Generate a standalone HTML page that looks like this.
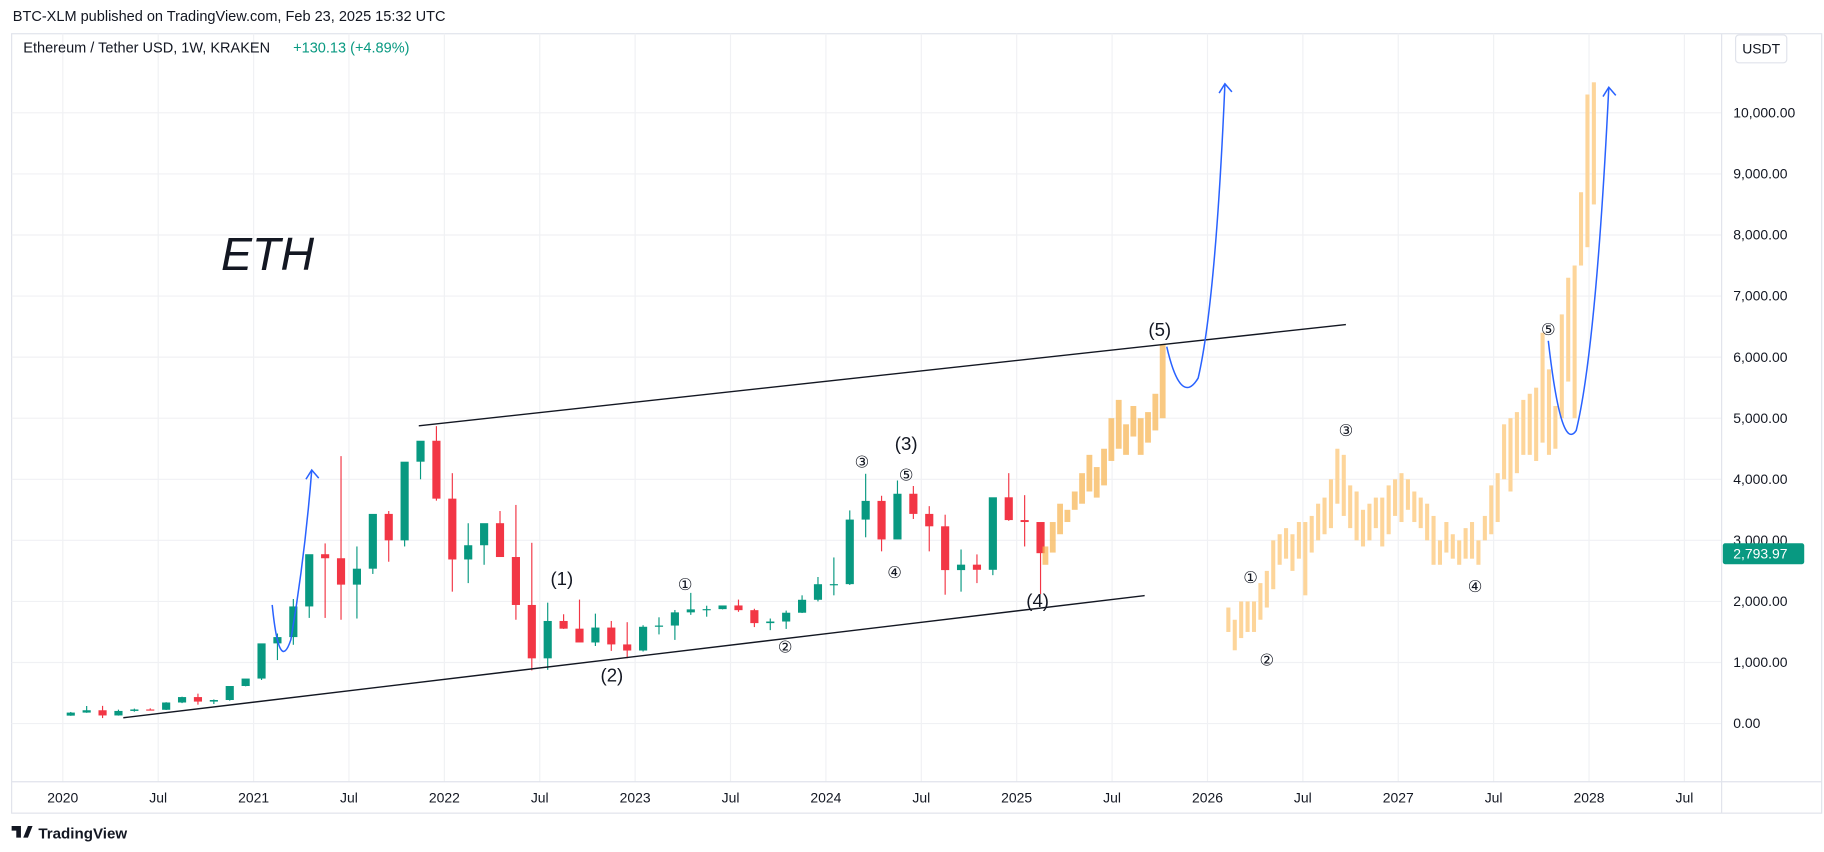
<!DOCTYPE html>
<html><head><meta charset="utf-8"><style>
body{margin:0;background:#fff;font-family:"Liberation Sans",sans-serif;}
#wrap{position:relative;width:1824px;height:852px;overflow:hidden;}
</style></head><body>
<div id="wrap">
<svg id="svg" width="1824" height="852" viewBox="0 0 1568 732.4" preserveAspectRatio="none" xmlns="http://www.w3.org/2000/svg"></svg>
</div>
<script>
// ---- data ----
const histOpen=[130,180,218,133,207,231,226,345,434,360,386,615,737,1313,1416,1918,2773,2707,2275,2536,3433,3000,4288,4631,3683,2687,2920,3281,2727,1942,1068,1680,1554,1328,1572,1296,1196,1585,1605,1821,1870,1874,1934,1857,1645,1671,1815,2027,2282,2283,3340,3646,3015,3763,3433,3230,2513,2602,2518,3705,3332,3300];
const histHigh=[190,288,290,228,245,250,350,440,490,395,470,620,760,1475,2040,1945,2950,4380,2900,2680,3480,3480,4460,4870,4100,3280,3200,3480,3580,2960,1980,1790,2030,1800,1680,1660,1610,1740,1860,2140,1930,1930,2030,1880,1720,1850,2100,2400,2720,3490,4090,3730,3980,3890,3560,3420,2850,2770,3430,4100,3740,2800];
const histLow=[127,176,90,130,195,215,222,335,310,320,375,610,714,1040,1290,1730,1730,1700,1720,2450,2650,2900,4000,3650,2160,2300,2600,2730,1700,870,880,1550,1420,1270,1190,1070,1180,1460,1370,1780,1750,1870,1830,1580,1530,1550,1810,2000,2100,2270,3050,2820,3020,3350,2820,2110,2160,2300,2430,3320,2900,2120];
const histClose=[180,218,133,207,231,226,345,434,360,386,615,737,1313,1416,1918,2773,2707,2275,2536,3433,3000,4288,4631,3683,2687,2920,3281,2727,1942,1068,1680,1554,1328,1572,1296,1196,1585,1605,1821,1870,1874,1934,1857,1645,1671,1815,2027,2282,2283,3340,3646,3015,3763,3433,3230,2513,2602,2518,3705,3332,3300,2790];
const projALo=[2600,2800,3100,3300,3500,3600,3800,3700,3900,4300,4500,4400,4700,4400,4600,4800,5000];
const projAHi=[2900,3300,3600,3500,3800,4100,4400,4200,4500,5000,5300,4900,5200,5000,5100,5400,6200];
const projBLo=[1500,1200,1400,1500,1500,1700,1900,2200,2600,2700,2500,2700,2100,2800,3000,3100,3200,3600,3400,3200,3000,2900,3000,3200,2900,3100,3400,3300,3500,3300,3200,3000,2600,2600,2800,2700,2600,2700,2700,2600,3000,3100,3300,4000,3800,4100,4400,4400,4300,4600,4400,4500,5000,5600,5000,7500,7800,8500];
const projBHi=[1900,1700,2000,2000,2000,2300,2500,3000,3100,3200,3100,3300,3300,3400,3600,3700,4000,4500,4400,3900,3800,3500,3600,3700,3700,3900,4000,4100,4000,3800,3700,3600,3400,3000,3300,3100,3000,3200,3300,3000,3400,3900,4100,4900,5000,5100,5300,5400,5500,6400,5800,5200,6700,7300,7500,8700,10300,10500];
const priceTicks=[0,1000,2000,3000,4000,5000,6000,7000,8000,9000,10000];
const timeLabels=["2020","Jul","2021","Jul","2022","Jul","2023","Jul","2024","Jul","2025","Jul","2026","Jul","2027","Jul","2028","Jul"];

// ---- axes ----
const yP=v=>622-v*0.0525;
const xM=m=>54+m*164/12;
const xW=w=>54+w*3.15;
const svg=document.getElementById('svg');
const NS='http://www.w3.org/2000/svg';
function mk(tag,attrs,parent){const e=document.createElementNS(NS,tag);for(const k in attrs)e.setAttribute(k,attrs[k]);(parent||svg).appendChild(e);return e;}

mk('rect',{x:10,y:29,width:1556,height:670,fill:'none',stroke:'#e0e3eb'});
const g=mk('g',{});
priceTicks.forEach(v=>{mk('line',{x1:10,x2:1480,y1:yP(v),y2:yP(v),stroke:'#f0f1f4'},g);});
timeLabels.forEach((t,i)=>{const x=xM(i*6);mk('line',{x1:x,x2:x,y1:29,y2:672,stroke:'#f0f1f4'},g);});
mk('line',{x1:1480,x2:1480,y1:29,y2:699,stroke:'#e0e3eb'});
mk('line',{x1:10,x2:1566,y1:672,y2:672,stroke:'#e0e3eb'});

priceTicks.forEach(v=>{const t=mk('text',{x:1490,y:yP(v)+4,'font-size':12,fill:'#131722'});t.textContent=v.toLocaleString('en-US',{minimumFractionDigits:2});

});
timeLabels.forEach((l,i)=>{const t=mk('text',{x:xM(i*6),y:690,'font-size':12,fill:'#131722','text-anchor':'middle'});t.textContent=l;

});

const cg=mk('g',{});
histOpen.forEach((o,i)=>{const c=histClose[i],x=xM(i+0.5),col=c>=o?'#089981':'#f23645';
 mk('line',{x1:x,x2:x,y1:yP(histHigh[i]),y2:yP(histLow[i]),stroke:col,'stroke-width':1},cg);
 const r=mk('rect',{x:x-3.5,y:yP(Math.max(o,c)),width:7,height:Math.max(1,Math.abs(yP(o)-yP(c))),fill:col},cg);
 
 });
const pg=mk('g',{});
projALo.forEach((lo,i)=>{const x=xW(268+i*2);const r=mk('rect',{x:x-2,y:yP(projAHi[i]),width:5,height:yP(lo)-yP(projAHi[i]),fill:'#f7b24d',opacity:0.7},pg);
 
 });
projBLo.forEach((lo,i)=>{const x=xW(318+i*1.75);const r=mk('rect',{x:x-1.5,y:yP(projBHi[i]),width:3.5,height:yP(lo)-yP(projBHi[i]),fill:'#fdd59a'},pg);
 
 });

let l=mk('line',{x1:360,y1:366,x2:1157,y2:279,stroke:'#131722','stroke-width':1.2});
l=mk('line',{x1:106,y1:617,x2:984,y2:512,stroke:'#131722','stroke-width':1.2});
function bp(d,name,ax,ay){const p=mk('path',{d:d,fill:'none',stroke:'#2962ff','stroke-width':1.3});
 mk('path',{d:`M${ax-5},${ay+8} L${ax},${ay} L${ax+6},${ay+7}`,fill:'none',stroke:'#2962ff','stroke-width':1.3});}
bp('M234,520 Q240,580 250,550 Q262,480 268,404','projection-path-2021',268,404);
bp('M1003,298 Q1015,350 1030,325 Q1045,260 1053,72','projection-path-2025',1053,72);
bp('M1331,293 Q1342,390 1355,370 Q1372,300 1383,75','projection-path-2027',1383,75);

const labs=[['(1)',483,503,16],['(2)',526,586,16],['①',589,507,14],['②',675,561,14],['③',741,402,14],['⑤',779,413,14],['(3)',779,387,16],['④',769,497,14],['(4)',892,522,16],['(5)',997,289,16],['①',1075,501,14],['②',1089,572,14],['③',1157,375,14],['④',1268,509,14],['⑤',1331,288,14]];
labs.forEach(a=>{const t=mk('text',{x:a[1],y:a[2],'font-size':a[3],fill:'#131722','text-anchor':'middle','font-family':'"Liberation Sans","DejaVu Sans",sans-serif'});t.textContent=a[0];
 
 });
let t=mk('text',{x:190,y:232,'font-size':40,'font-style':'italic',fill:'#131722'});t.textContent='ETH';

t=mk('text',{x:11,y:18,'font-size':12.5,fill:'#131722'});t.textContent='BTC-XLM published on TradingView.com, Feb 23, 2025 15:32 UTC';
t=mk('text',{x:20,y:45,'font-size':12.5,fill:'#131722'});t.textContent='Ethereum / Tether USD, 1W, KRAKEN';
t=mk('text',{x:252,y:45,'font-size':12.5,fill:'#089981'});t.textContent='+130.13 (+4.89%)';
let r=mk('rect',{x:1492,y:30,width:44,height:24,rx:3,fill:'#fff',stroke:'#e0e3eb'});
t=mk('text',{x:1514,y:46,'font-size':12,fill:'#131722','text-anchor':'middle'});t.textContent='USDT';
r=mk('rect',{x:1481,y:467,width:70,height:18,rx:2,fill:'#089981'});
t=mk('text',{x:1490,y:480,'font-size':12,fill:'#fff'});t.textContent='2,793.97';
mk('path',{d:'M10,710 h8 v10 h-4 v-6 h-4 z M20,720 l4,-10 h4 l-4,10 z',fill:'#131722'});
t=mk('text',{x:33,y:721,'font-size':13,fill:'#131722','font-weight':'bold'});t.textContent='TradingView';
</script>
</body></html>
